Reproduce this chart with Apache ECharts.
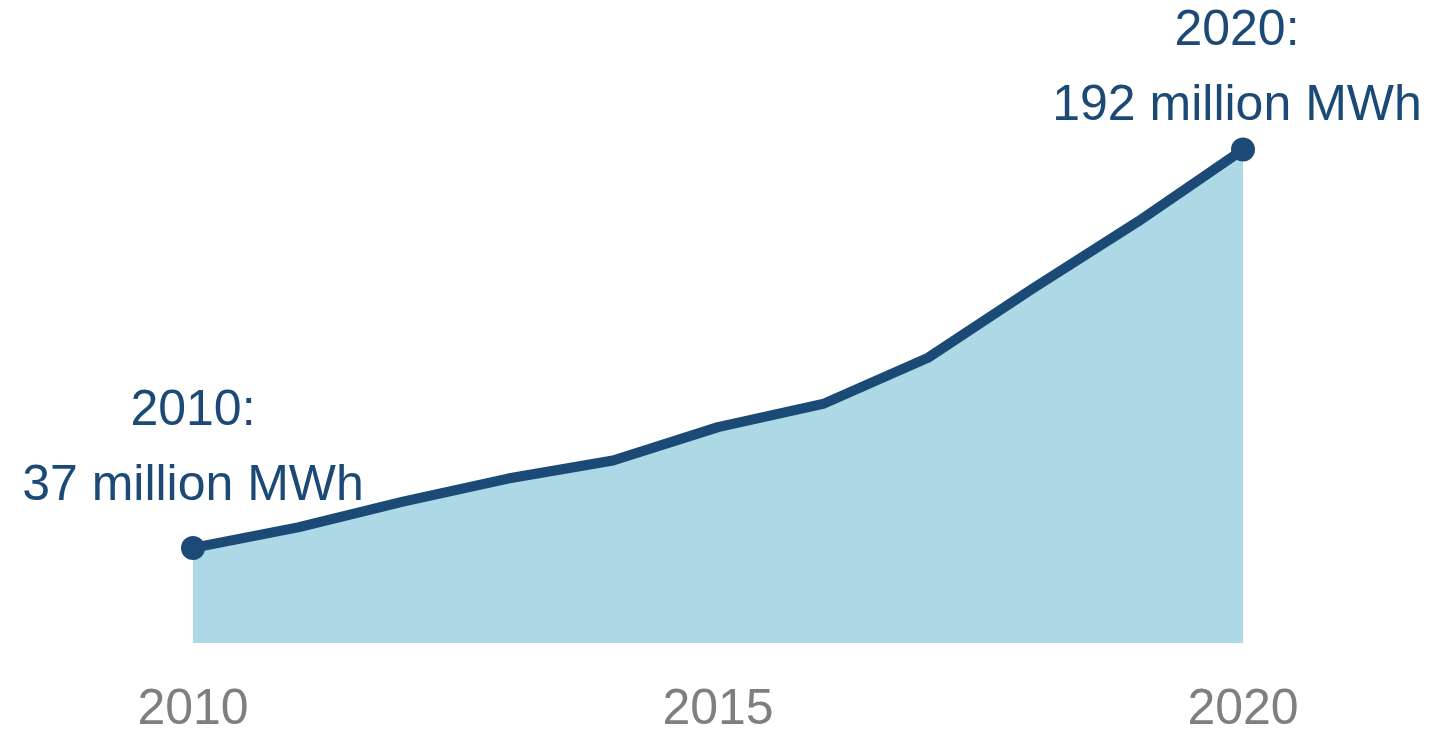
<!DOCTYPE html>
<html>
<head>
<meta charset="utf-8">
<script src="https://cdn.jsdelivr.net/npm/echarts@6/dist/echarts.min.js"></script>
<style>
  html, body { margin: 0; padding: 0; background: #ffffff; overflow: hidden; }
  #chart { width: 1440px; height: 729px; }
</style>
</head>
<body>
<div id="chart"></div>
<script>
// Annual generation, million MWh
const years = ['2010', '2011', '2012', '2013', '2014', '2015', '2016', '2017', '2018', '2019', '2020'];
const generation = [37, 45, 55, 64, 71, 84, 93, 111, 138, 164, 192];
const tickYears = ['2010', '2015', '2020'];

const lineColor = '#1c4a76';
const fillColor = '#add8e6';
const lastIdx = generation.length - 1;

function endLabel(i) {
  return years[i] + ':\n' + generation[i] + ' million MWh';
}

// Only the first and last years carry a dot and a callout
const seriesData = generation.map((v, i) => {
  if (i === 0 || i === lastIdx) {
    return {
      value: v,
      symbol: 'circle',
      symbolSize: 24,
      label: {
        show: true,
        position: 'top',
        distance: i === 0 ? 12 : -6,
        offset: i === 0 ? [0, 0] : [-6, 0],
        formatter: () => endLabel(i)
      }
    };
  }
  return { value: v, symbol: 'none' };
});

const chart = echarts.init(document.getElementById('chart'));
chart.setOption({
  animation: false,
  backgroundColor: '#ffffff',
  grid: {
    left: 193, right: 197, top: 129, bottom: 86,
    containLabel: false,
    outerBoundsMode: 'none'
  },
  xAxis: {
    type: 'category',
    data: years,
    boundaryGap: false,
    axisLine: { show: false },
    axisTick: { show: false },
    splitLine: { show: false },
    axisLabel: {
      interval: 0,
      margin: 42,
      color: '#7f7f7f',
      fontSize: 50,
      fontFamily: 'Liberation Sans, Arial, sans-serif',
      formatter: (v) => (tickYears.includes(v) ? v : '')
    }
  },
  yAxis: {
    type: 'value',
    min: 0,
    max: 200,
    show: false,
    splitLine: { show: false }
  },
  series: [{
    type: 'line',
    data: seriesData,
    smooth: false,
    lineStyle: { color: lineColor, width: 10, cap: 'round', join: 'round' },
    itemStyle: { color: lineColor },
    areaStyle: { color: fillColor, opacity: 1, origin: 'start' },
    label: {
      color: lineColor,
      fontSize: 50,
      lineHeight: 75,
      align: 'center',
      fontFamily: 'Liberation Sans, Arial, sans-serif'
    },
    z: 2
  }]
});
</script>
</body>
</html>
